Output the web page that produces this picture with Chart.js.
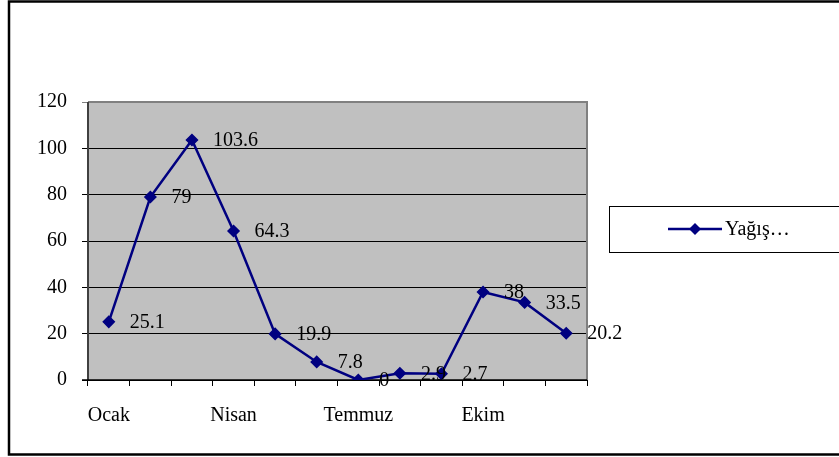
<!DOCTYPE html>
<html>
<head>
<meta charset="utf-8">
<script src="https://cdn.jsdelivr.net/npm/chart.js@4"></script>
<style>
  html, body { margin: 0; padding: 0; background: #fff; }
  #wrap { width: 839px; height: 457px; position: relative; }
</style>
</head>
<body>
<div id="wrap"><canvas id="c" width="839" height="457"></canvas></div>
<script>
const months = ['Ocak','Şubat','Mart','Nisan','Mayıs','Haziran','Temmuz','Ağustos','Eylül','Ekim','Kasım','Aralık'];
const rainfall = [25.1, 79, 103.6, 64.3, 19.9, 7.8, 0, 2.9, 2.7, 38, 33.5, 20.2];
const valueLabels = ['25.1','79','103.6','64.3','19.9','7.8','0','2.9','2.7','38','33.5','20.2'];
const seriesName = 'Yağış…';
const yTicks = [0, 20, 40, 60, 80, 100, 120];

const FONT = "'Liberation Serif', serif";
const NAVY = '#000080';

const frame = {
  id: 'frame',
  beforeDraw(chart) {
    const ctx = chart.ctx, a = chart.chartArea;
    ctx.save();
    ctx.fillStyle = '#ffffff';
    ctx.fillRect(0, 0, chart.width, chart.height);
    ctx.fillStyle = '#C0C0C0';
    ctx.fillRect(a.left, a.top, a.right - a.left, a.bottom - a.top);
    ctx.strokeStyle = '#000';
    ctx.lineWidth = 2.5;
    ctx.strokeRect(9, 1.5, chart.width + 20, 453);
    ctx.restore();
  },
  beforeDatasetsDraw(chart) {
    const ctx = chart.ctx, a = chart.chartArea;
    ctx.save();
    ctx.strokeStyle = '#808080';
    ctx.lineWidth = 2;
    ctx.beginPath();
    ctx.moveTo(a.left, a.top);
    ctx.lineTo(a.right, a.top);
    ctx.lineTo(a.right, a.bottom);
    ctx.stroke();
    ctx.strokeStyle = '#404040';
    ctx.beginPath();
    ctx.moveTo(a.left, a.top);
    ctx.lineTo(a.left, a.bottom);
    ctx.stroke();
    ctx.strokeStyle = '#000';
    ctx.lineWidth = 1.5;
    ctx.beginPath();
    ctx.moveTo(a.left - 6, a.bottom);
    ctx.lineTo(a.right, a.bottom);
    ctx.stroke();
    ctx.restore();
  },
  afterDatasetsDraw(chart) {
    const ctx = chart.ctx;
    const meta = chart.getDatasetMeta(0);
    ctx.save();
    ctx.font = '20px ' + FONT;
    ctx.fillStyle = '#000';
    ctx.textBaseline = 'middle';
    ctx.textAlign = 'left';
    meta.data.forEach((pt, i) => {
      ctx.fillText(valueLabels[i], pt.x + 21, pt.y + 1);
    });
    // legend
    const lx = 609, ly = 206, lw = 260, lh = 46;
    ctx.strokeStyle = '#000';
    ctx.lineWidth = 1;
    ctx.strokeRect(lx + 0.5, ly + 0.5, lw, lh);
    const cy = ly + lh / 2;
    ctx.strokeStyle = NAVY;
    ctx.lineWidth = 2.5;
    ctx.beginPath();
    ctx.moveTo(668, cy);
    ctx.lineTo(722, cy);
    ctx.stroke();
    ctx.fillStyle = NAVY;
    ctx.beginPath();
    ctx.moveTo(695, cy - 6);
    ctx.lineTo(701, cy);
    ctx.lineTo(695, cy + 6);
    ctx.lineTo(689, cy);
    ctx.closePath();
    ctx.fill();
    ctx.fillStyle = '#000';
    ctx.fillText(chart.data.datasets[0].label, 725, cy + 1);
    ctx.restore();
  }
};

new Chart(document.getElementById('c'), {
  type: 'line',
  data: {
    labels: months,
    datasets: [{
      label: seriesName,
      data: rainfall,
      borderColor: NAVY,
      backgroundColor: NAVY,
      borderWidth: 2.5,
      pointStyle: 'rectRot',
      pointRadius: 5.5,
      pointBorderWidth: 1.5,
      pointBackgroundColor: NAVY,
      pointBorderColor: NAVY,
      tension: 0,
      fill: false
    }]
  },
  options: {
    responsive: false,
    animation: false,
    devicePixelRatio: 1,
    layout: { padding: { left: 0, top: 102, right: 252, bottom: 0 } },
    plugins: { legend: { display: false }, tooltip: { enabled: false } },
    scales: {
      x: {
        type: 'category',
        offset: true,
        afterFit(s) { s.height = 77; },
        grid: { display: true, offset: true, drawOnChartArea: false, drawTicks: true, tickLength: 6, color: '#000', lineWidth: 1 },
        border: { display: false },
        ticks: {
          autoSkip: false, maxRotation: 0, minRotation: 0,
          padding: 18,
          color: '#000',
          font: { family: FONT, size: 20 },
          callback(v, i) { return i % 3 === 0 ? months[i] : ''; }
        }
      },
      y: {
        min: 0, max: 120,
        afterFit(s) { s.width = 88; },
        afterBuildTicks(s) { s.ticks = yTicks.map(v => ({ value: v })); },
        grid: {
          color(c) { return c.tick && c.tick.value === 120 ? '#808080' : '#000'; },
          lineWidth: 1, tickLength: 6, drawTicks: true
        },
        border: { display: false },
        ticks: { padding: 15, color: '#000', font: { family: FONT, size: 20 } }
      }
    }
  },
  plugins: [frame]
});
</script>
</body>
</html>
